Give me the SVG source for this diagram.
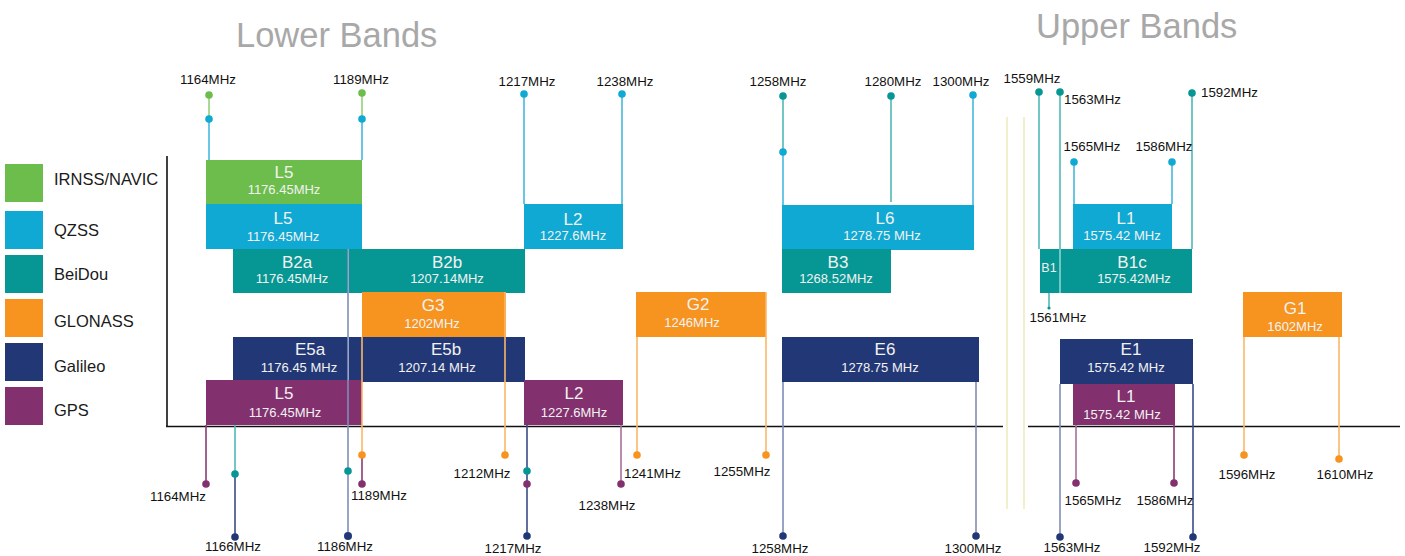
<svg xmlns="http://www.w3.org/2000/svg" width="1405" height="556" viewBox="0 0 1405 556">
<style>
text{font-family:"Liberation Sans",Arial,sans-serif}
.title{font-size:34.5px;fill:#a8a8a8}
.leg{font-size:16.5px;fill:#1a1a1a}
.lbl{font-size:13.3px;fill:#111;text-anchor:middle}
.lbs{font-size:13.3px;fill:#111}
.bn{font-size:17px;fill:#f2f2f2;text-anchor:middle}
.bf{font-size:13px;fill:#f2f2f2;text-anchor:middle}
.irn{fill:#6cbd4b}.qz{fill:#10a9d3}.bd{fill:#069794}.gl{fill:#f7931f}.ga{fill:#223876}.gp{fill:#83306e}
.l{fill:none;stroke-width:1.6}
.lg{stroke:#94d07a}.lq{stroke:#45b8dc}.lt{stroke:#4fb8b5}.lo{stroke:#f9b768}.ln{stroke:#7f8cb8}.lnd{stroke:#3a4c88}.lp{stroke:#a8709a}.lpd{stroke:#8a3a76}
.ax{stroke:#111;stroke-width:1.6;fill:none}
.brk{stroke:#efedbf;stroke-width:1.6}
</style>

<text class="title" x="236" y="47">Lower Bands</text>
<text class="title" x="1036" y="38">Upper Bands</text>

<g id="legend">
<rect class="irn" x="5" y="164" width="38" height="38"/><text class="leg" x="54" y="185">IRNSS/NAVIC</text>
<rect class="qz" x="5" y="211" width="38" height="38"/><text class="leg" x="54" y="236">QZSS</text>
<rect class="bd" x="5" y="255" width="38" height="38"/><text class="leg" x="54" y="280">BeiDou</text>
<rect class="gl" x="5" y="299" width="38" height="38"/><text class="leg" x="54" y="327">GLONASS</text>
<rect class="ga" x="5" y="343" width="38" height="38"/><text class="leg" x="54" y="372">Galileo</text>
<rect class="gp" x="5" y="387" width="38" height="38"/><text class="leg" x="54" y="416">GPS</text>
</g>

<g id="axes">
<line class="ax" x1="167" y1="156" x2="167" y2="427"/>
<line class="ax" x1="166" y1="426.5" x2="1003" y2="426.5"/>
<line class="ax" x1="1028" y1="426.5" x2="1400" y2="426.5"/>
<line class="brk" x1="1007" y1="117" x2="1007" y2="509"/>
<line class="brk" x1="1024" y1="117" x2="1024" y2="509"/>
</g>

<g id="irnss-l5"><rect class="irn" x="206" y="160" width="156" height="44"/><text class="bn" x="284" y="178">L5</text><text class="bf" x="284" y="193.5">1176.45MHz</text></g>
<g id="qzss-l5"><rect class="qz" x="206" y="204" width="156" height="45"/><text class="bn" x="283" y="224">L5</text><text class="bf" x="283" y="240.5">1176.45MHz</text></g>
<g id="qzss-l2"><rect class="qz" x="524" y="204" width="99" height="45"/><text class="bn" x="573" y="225">L2</text><text class="bf" x="573" y="239.5">1227.6MHz</text></g>
<g id="qzss-l6"><rect class="qz" x="782" y="205" width="192" height="45"/><text class="bn" x="885" y="224">L6</text><text class="bf" x="882" y="239.5">1278.75 MHz</text></g>
<g id="qzss-l1"><rect class="qz" x="1073" y="204" width="99" height="45"/><text class="bn" x="1126" y="224">L1</text><text class="bf" x="1122" y="239.5">1575.42 MHz</text></g>

<g id="beidou-b2a"><rect class="bd" x="233" y="249" width="115" height="44"/><text class="bn" x="297" y="268">B2a</text><text class="bf" x="292" y="282.5">1176.45MHz</text></g>
<g id="beidou-b2b"><rect class="bd" x="349" y="249" width="176" height="44"/><text class="bn" x="447" y="268">B2b</text><text class="bf" x="447" y="282.5">1207.14MHz</text></g>
<g id="beidou-b3"><rect class="bd" x="782" y="249" width="109" height="44"/><text class="bn" x="838" y="268">B3</text><text class="bf" x="836" y="282.5">1268.52MHz</text></g>
<g id="beidou-b1"><rect class="bd" x="1040" y="249" width="19" height="44"/><text class="bf" style="font-size:12.5px" x="1049" y="271.5">B1</text></g>
<g id="beidou-b1c"><rect class="bd" x="1061" y="249" width="131" height="44"/><text class="bn" x="1132" y="268">B1c</text><text class="bf" x="1134" y="282.5">1575.42MHz</text></g>

<g id="glonass-g3"><rect class="gl" x="362" y="292" width="144" height="45"/><text class="bn" x="433" y="311">G3</text><text class="bf" x="432" y="327.5">1202MHz</text></g>
<g id="glonass-g2"><rect class="gl" x="636" y="292" width="130" height="45"/><text class="bn" x="698" y="310">G2</text><text class="bf" x="692" y="326.5">1246MHz</text></g>
<g id="glonass-g1"><rect class="gl" x="1243" y="292" width="99" height="45"/><text class="bn" x="1295" y="314">G1</text><text class="bf" x="1295" y="330.5">1602MHz</text></g>

<g id="galileo-e5a"><rect class="ga" x="233" y="337" width="115" height="45"/><text class="bn" x="310" y="355">E5a</text><text class="bf" x="299" y="371.5">1176.45 MHz</text></g>
<g id="galileo-e5b"><rect class="ga" x="349" y="337" width="176" height="45"/><text class="bn" x="446" y="355">E5b</text><text class="bf" x="437" y="371.5">1207.14 MHz</text></g>
<g id="galileo-e6"><rect class="ga" x="782" y="337" width="197" height="45"/><text class="bn" x="885" y="355">E6</text><text class="bf" x="880" y="371.5">1278.75 MHz</text></g>
<g id="galileo-e1"><rect class="ga" x="1060" y="339" width="133" height="45"/><text class="bn" x="1131" y="355">E1</text><text class="bf" x="1126" y="371.5">1575.42 MHz</text></g>

<g id="gps-l5"><rect class="gp" x="206" y="380" width="156" height="45"/><text class="bn" x="284" y="399">L5</text><text class="bf" x="285" y="416.5">1176.45MHz</text></g>
<g id="gps-l2"><rect class="gp" x="524" y="380" width="99" height="45"/><text class="bn" x="574" y="399">L2</text><text class="bf" x="574" y="416.5">1227.6MHz</text></g>
<g id="gps-l1"><rect class="gp" x="1073" y="384" width="102" height="41"/><text class="bn" x="1126" y="402">L1</text><text class="bf" x="1122" y="418.5">1575.42 MHz</text></g>

<g id="connectors">
<line class="l lg" x1="209" y1="95" x2="209" y2="119"/><line class="l lq" x1="209" y1="119" x2="209" y2="160"/>
<circle class="irn" cx="209" cy="95" r="3.8"/><circle class="qz" cx="209" cy="119" r="3.8"/>
<line class="l lg" x1="362" y1="93" x2="362" y2="119"/><line class="l lq" x1="362" y1="119" x2="362" y2="160"/>
<circle class="irn" cx="362" cy="93" r="3.8"/><circle class="qz" cx="362" cy="119" r="3.8"/>
<line class="l lq" x1="524" y1="94" x2="524" y2="204"/><circle class="qz" cx="524" cy="94" r="3.8"/>
<line class="l lq" x1="622" y1="94" x2="622" y2="204"/><circle class="qz" cx="622" cy="94" r="3.8"/>
<line class="l lt" x1="783" y1="96" x2="783" y2="152"/><line class="l lq" x1="783" y1="152" x2="783" y2="205"/>
<circle class="bd" cx="783" cy="96" r="3.8"/><circle class="qz" cx="783" cy="152" r="3.8"/>
<line class="l lt" x1="891" y1="96" x2="891" y2="202"/><circle class="bd" cx="891" cy="96" r="3.8"/>
<line class="l lq" x1="973" y1="95" x2="973" y2="205"/><circle class="qz" cx="973" cy="95" r="3.8"/>
<line class="l lt" x1="1039" y1="92" x2="1039" y2="249"/><circle class="bd" cx="1039" cy="92" r="3.8"/>
<line class="l lt" x1="1060" y1="92" x2="1060" y2="293"/><circle class="bd" cx="1060" cy="92" r="3.8"/>
<line class="l lt" x1="1192" y1="93" x2="1192" y2="249"/><circle class="bd" cx="1192" cy="93" r="3.8"/>
<line class="l lq" x1="1074" y1="162" x2="1074" y2="204"/><circle class="qz" cx="1074" cy="162" r="3.8"/>
<line class="l lq" x1="1172" y1="162" x2="1172" y2="204"/><circle class="qz" cx="1172" cy="162" r="3.8"/>
<line class="l lt" x1="1049" y1="293" x2="1049" y2="308"/><circle class="bd" cx="1049" cy="308" r="1.6"/>
<line class="l lpd" x1="206" y1="425" x2="206" y2="484"/><circle class="gp" cx="206" cy="484" r="3.8"/>
<line class="l lt" x1="235" y1="425" x2="235" y2="474"/><line class="l lnd" x1="235" y1="474" x2="235" y2="537"/>
<circle class="bd" cx="235" cy="474" r="3.8"/><circle class="ga" cx="235" cy="537" r="3.8"/>
<line class="l ln" x1="348" y1="249" x2="348" y2="536"/><circle class="bd" cx="348" cy="471" r="3.8"/><circle class="ga" cx="348" cy="536" r="4"/>
<line class="l lo" x1="362" y1="337" x2="362" y2="455"/><line class="l lpd" x1="362" y1="455" x2="362" y2="484"/>
<circle class="gl" cx="362" cy="455" r="3.8"/><circle class="gp" cx="362" cy="484" r="3.8"/>
<line class="l lo" x1="505" y1="292" x2="505" y2="455"/><circle class="gl" cx="505" cy="455" r="3.8"/>
<line class="l lnd" x1="527" y1="425" x2="527" y2="536"/><circle class="bd" cx="527" cy="471" r="3.8"/><circle class="gp" cx="527" cy="484" r="3.8"/><circle class="ga" cx="527" cy="536" r="3.8"/>
<line class="l lp" x1="621" y1="425" x2="621" y2="484"/><circle class="gp" cx="621" cy="484" r="3.8"/>
<line class="l lo" x1="637" y1="337" x2="637" y2="455"/><circle class="gl" cx="637" cy="455" r="3.8"/>
<line class="l lo" x1="766" y1="292" x2="766" y2="455"/><circle class="gl" cx="766" cy="455" r="3.8"/>
<line class="l ln" x1="783" y1="382" x2="783" y2="536"/><circle class="ga" cx="783" cy="536" r="3.8"/>
<line class="l ln" x1="976" y1="382" x2="976" y2="536"/><circle class="ga" cx="976" cy="536" r="3.8"/>
<line class="l ln" x1="1060" y1="384" x2="1060" y2="537"/><circle class="ga" cx="1060" cy="537" r="3.8"/>
<line class="l lnd" x1="1193" y1="384" x2="1193" y2="537"/><circle class="ga" cx="1193" cy="537" r="3.8"/>
<line class="l lp" x1="1076" y1="425" x2="1076" y2="483"/><circle class="gp" cx="1076" cy="483" r="3.8"/>
<line class="l lpd" x1="1174" y1="425" x2="1174" y2="483"/><circle class="gp" cx="1174" cy="483" r="3.8"/>
<line class="l lo" x1="1244" y1="337" x2="1244" y2="455"/><circle class="gl" cx="1244" cy="455" r="3.8"/>
<line class="l lo" x1="1339" y1="337" x2="1339" y2="459"/><circle class="gl" cx="1339" cy="459" r="3.8"/>
</g>

<g id="freq-labels">
<text class="lbl" x="208" y="84">1164MHz</text>
<text class="lbl" x="361" y="84">1189MHz</text>
<text class="lbl" x="527" y="86">1217MHz</text>
<text class="lbl" x="625" y="86">1238MHz</text>
<text class="lbl" x="778" y="86">1258MHz</text>
<text class="lbl" x="893" y="86">1280MHz</text>
<text class="lbl" x="961" y="86">1300MHz</text>
<text class="lbl" x="1032" y="83">1559MHz</text>
<text class="lbs" x="1064" y="104">1563MHz</text>
<text class="lbs" x="1201" y="97">1592MHz</text>
<text class="lbl" x="1092" y="151">1565MHz</text>
<text class="lbl" x="1164" y="151">1586MHz</text>
<text class="lbl" x="1058" y="322">1561MHz</text>
<text class="lbl" x="178" y="501">1164MHz</text>
<text class="lbl" x="233" y="551">1166MHz</text>
<text class="lbl" x="345" y="551">1186MHz</text>
<text class="lbl" x="379" y="500">1189MHz</text>
<text class="lbl" x="482" y="478">1212MHz</text>
<text class="lbl" x="513" y="553">1217MHz</text>
<text class="lbl" x="607" y="510">1238MHz</text>
<text class="lbs" x="624" y="478">1241MHz</text>
<text class="lbl" x="742" y="476">1255MHz</text>
<text class="lbl" x="780" y="553">1258MHz</text>
<text class="lbl" x="973" y="553">1300MHz</text>
<text class="lbl" x="1072" y="552">1563MHz</text>
<text class="lbl" x="1172" y="552">1592MHz</text>
<text class="lbl" x="1093" y="505">1565MHz</text>
<text class="lbl" x="1165" y="505">1586MHz</text>
<text class="lbl" x="1247" y="479">1596MHz</text>
<text class="lbl" x="1345" y="479">1610MHz</text>
</g>
</svg>
